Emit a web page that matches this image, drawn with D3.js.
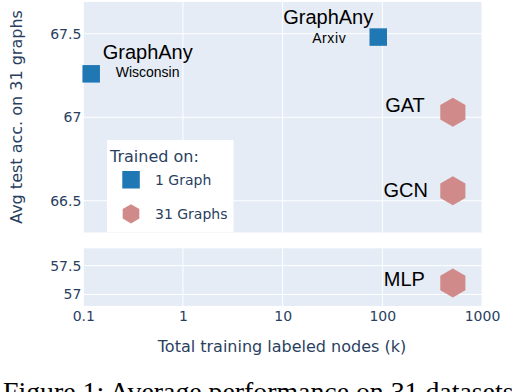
<!DOCTYPE html>
<html>
<head>
<meta charset="utf-8">
<script src="https://cdn.jsdelivr.net/npm/d3@7"></script>
<style>
  body { margin: 0; background: #fff; }
  svg { display: block; }
</style>
</head>
<body>
<div id="chart"></div>
<script>
// data
var models = ["GraphAny", "GraphAny", "GAT", "GCN", "MLP"];
var trainSets = ["Wisconsin", "Arxiv", "", "", ""];
var labeledNodes = [0.12, 91, 510, 510, 510];   // k
var avgAcc = [67.26, 67.48, 67.03, 66.56, 57.2];
var trainedOn = ["1 Graph", "1 Graph", "31 Graphs", "31 Graphs", "31 Graphs"];
var groups = ["1 Graph", "31 Graphs"];
var xTicks = [0.1, 1, 10, 100, 1000];
var yTopTicks = [66.5, 67, 67.5];
var yBotTicks = [57, 57.5];

var W = 512, H = 392;
var tickFont = "DejaVu Sans", tickColor = "#2a3f5f";
var blue = "#1f77b4", pink = "#d08a89";

var svg = d3.select("#chart").append("svg")
    .attr("width", W)
    .attr("height", H);

var x = d3.scaleLog().domain([0.1, 1000]).range([83.3, 482]);
var yTop = d3.scaleLinear().domain([66.31, 67.69]).range([232.5, 2]);
var yBot = d3.scaleLinear().domain([56.8, 57.8]).range([306, 248.3]);

// which panel a value falls in
function yOf(v) { return v > 60 ? yTop(v) : yBot(v); }

function panel(y, ticks) {
    var r = y.range();
    var g = svg.append("g");
    g.append("rect")
        .attr("x", x.range()[0])
        .attr("y", r[1])
        .attr("width", x.range()[1] - x.range()[0])
        .attr("height", r[0] - r[1])
        .attr("fill", "#e5ecf6");
    // vertical grid
    g.selectAll(".vg").data(xTicks).enter().append("line")
        .attr("x1", d => x(d)).attr("x2", d => x(d))
        .attr("y1", r[1]).attr("y2", r[0])
        .attr("stroke", "#fff").attr("stroke-width", 1);
    // horizontal grid
    g.selectAll(".hg").data(ticks).enter().append("line")
        .attr("x1", x.range()[0]).attr("x2", x.range()[1])
        .attr("y1", d => y(d)).attr("y2", d => y(d))
        .attr("stroke", "#fff").attr("stroke-width", 1);

    var ax = g.append("g")
        .attr("transform", "translate(" + (x.range()[0] - 2) + ",0)")
        .call(d3.axisLeft(y).tickValues(ticks).tickSize(0).tickPadding(0).tickFormat(d => String(d)));
    ax.select(".domain").remove();
    ax.selectAll("text")
        .attr("font-family", tickFont)
        .attr("font-size", 14)
        .attr("fill", tickColor);
}

panel(yTop, yTopTicks);
panel(yBot, yBotTicks);

// x axis labels
var xa = svg.append("g")
    .attr("transform", "translate(0,311)")
    .call(d3.axisBottom(x).tickValues(xTicks).tickSize(0).tickPadding(0).tickFormat(d => String(d)));
xa.select(".domain").remove();
xa.selectAll("text")
    .attr("font-family", tickFont)
    .attr("font-size", 14)
    .attr("fill", tickColor);

// axis titles
svg.append("text")
    .attr("x", 282).attr("y", 352)
    .attr("text-anchor", "middle")
    .attr("font-family", tickFont).attr("font-size", 16)
    .attr("fill", tickColor)
    .text("Total training labeled nodes (k)");

svg.append("text")
    .attr("transform", "translate(21.5,117) rotate(-90)")
    .attr("text-anchor", "middle")
    .attr("font-family", tickFont).attr("font-size", 16)
    .attr("fill", tickColor)
    .text("Avg test acc. on 31 graphs");

// hexagon path
function hexPath(r) {
    var pts = d3.range(6).map(function(i) {
        var a = Math.PI / 3 * i - Math.PI / 2;
        return [r * Math.cos(a), r * Math.sin(a)];
    });
    return d3.line().curve(d3.curveLinearClosed)(pts);
}

var pts = models.map(function(m, i) {
    return { model: m, set: trainSets[i], x: labeledNodes[i], y: avgAcc[i], group: trainedOn[i] };
});

svg.selectAll(".sq").data(pts.filter(d => d.group == groups[0])).enter().append("rect")
    .attr("x", d => x(d.x) - 8.75)
    .attr("y", d => yOf(d.y) - 8.75)
    .attr("width", 17.5).attr("height", 17.5)
    .attr("fill", blue);

svg.selectAll(".hx").data(pts.filter(d => d.group == groups[1])).enter().append("path")
    .attr("transform", d => "translate(" + x(d.x) + "," + yOf(d.y) + ")")
    .attr("d", hexPath(14.5))
    .attr("fill", pink);

// text labels next to markers (offsets in px)
var labelPos = [
    { dx: 11.5, dy: -14.5, anchor: "start", sdx: 24.5, sdy: 3.5, sanchor: "start" },
    { dx: -5, dy: -13, anchor: "end", sdx: -49, sdy: 6, sanchor: "middle" },
    { dx: -28, dy: 0, anchor: "end" },
    { dx: -25, dy: 6.5, anchor: "end" },
    { dx: -28, dy: 3, anchor: "end" }
];

pts.forEach(function(d, i) {
    var p = labelPos[i], cx = x(d.x), cy = yOf(d.y);
    svg.append("text")
        .attr("x", cx + p.dx).attr("y", cy + p.dy)
        .attr("text-anchor", p.anchor)
        .attr("font-family", "Liberation Sans, Arial")
        .attr("font-size", 20)
        .attr("fill", "#000")
        .text(d.model);
    if (d.set) {
        svg.append("text")
            .attr("x", cx + p.sdx).attr("y", cy + p.sdy)
            .attr("text-anchor", p.sanchor)
            .attr("font-family", "Liberation Sans, Arial")
            .attr("font-size", 14)
            .attr("letter-spacing", i == 1 ? 0.6 : 0)
            .attr("fill", "#000")
            .text(d.set);
    }
});

// legend
var lg = svg.append("g");
lg.append("rect")
    .attr("x", 107).attr("y", 140)
    .attr("width", 126.5).attr("height", 92.3)
    .attr("fill", "#fff");
lg.append("text")
    .attr("x", 110).attr("y", 161.5)
    .attr("font-family", tickFont).attr("font-size", 16)
    .attr("fill", tickColor)
    .text("Trained on:");
lg.append("rect")
    .attr("x", 122.3).attr("y", 171)
    .attr("width", 17.5).attr("height", 17.5)
    .attr("fill", blue);
lg.append("path")
    .attr("transform", "translate(131,213.8)")
    .attr("d", hexPath(9.6))
    .attr("fill", pink);
lg.selectAll(".lt").data(groups).enter().append("text")
    .attr("x", 155)
    .attr("y", (d, i) => i == 0 ? 184.5 : 218.8)
    .attr("font-family", tickFont).attr("font-size", 14)
    .attr("fill", tickColor)
    .text(d => d);

// caption under the figure
svg.append("text")
    .attr("x", 3).attr("y", 400.5)
    .attr("font-family", "Liberation Serif, Times New Roman")
    .attr("font-size", 27.8)
    .attr("fill", "#000")
    .text("Figure 1: Average performance on 31 datasets");
</script>
</body>
</html>
